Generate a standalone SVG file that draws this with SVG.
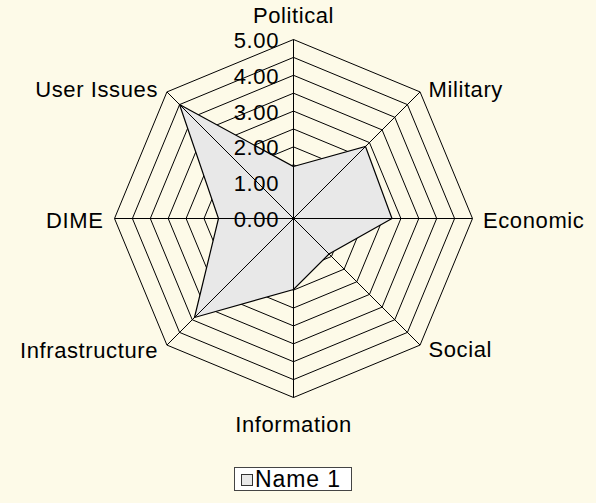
<svg xmlns="http://www.w3.org/2000/svg" width="596" height="503" viewBox="0 0 596 503">
<style>
text{font-family:"Liberation Sans",Arial,sans-serif;font-size:22px;fill:#000;letter-spacing:0.6px}
.ring{fill:none;stroke:#000;stroke-width:1}
.spoke{stroke:#000;stroke-width:1}
.data{fill:#E8E8E8;stroke:#000;stroke-width:1.2}
</style>
<rect width="596" height="503" fill="#FDFAE8"/>
<g id="grid" transform="translate(293.5,218.5)">
<polygon class="ring" points="0,-17.9 12.66,-12.66 17.9,0 12.66,12.66 0,17.9 -12.66,12.66 -17.9,0 -12.66,-12.66"/>
<polygon class="ring" points="0,-35.8 25.31,-25.31 35.8,0 25.31,25.31 0,35.8 -25.31,25.31 -35.8,0 -25.31,-25.31"/>
<polygon class="ring" points="0,-53.7 37.97,-37.97 53.7,0 37.97,37.97 0,53.7 -37.97,37.97 -53.7,0 -37.97,-37.97"/>
<polygon class="ring" points="0,-71.6 50.63,-50.63 71.6,0 50.63,50.63 0,71.6 -50.63,50.63 -71.6,0 -50.63,-50.63"/>
<polygon class="ring" points="0,-89.5 63.29,-63.29 89.5,0 63.29,63.29 0,89.5 -63.29,63.29 -89.5,0 -63.29,-63.29"/>
<polygon class="ring" points="0,-107.4 75.94,-75.94 107.4,0 75.94,75.94 0,107.4 -75.94,75.94 -107.4,0 -75.94,-75.94"/>
<polygon class="ring" points="0,-125.3 88.6,-88.6 125.3,0 88.6,88.6 0,125.3 -88.6,88.6 -125.3,0 -88.6,-88.6"/>
<polygon class="ring" points="0,-143.2 101.26,-101.26 143.2,0 101.26,101.26 0,143.2 -101.26,101.26 -143.2,0 -101.26,-101.26"/>
<polygon class="ring" points="0,-161.1 113.91,-113.91 161.1,0 113.91,113.91 0,161.1 -113.91,113.91 -161.1,0 -113.91,-113.91"/>
<polygon class="ring" points="0,-179 126.57,-126.57 179,0 126.57,126.57 0,179 -126.57,126.57 -179,0 -126.57,-126.57"/>
</g>
<g id="series-name-1" transform="translate(293.5,218.5)">
<polygon class="data" points="0,-52 72,-72 98.5,0 35.5,35.5 0,71 -99,99 -75,0 -114,-114"/>
</g>
<g id="connectors" transform="translate(293.5,218.5)">
<line class="spoke" x1="0" y1="0" x2="0" y2="-179"/>
<line class="spoke" x1="0" y1="0" x2="126.57" y2="-126.57"/>
<line class="spoke" x1="0" y1="0" x2="179" y2="0"/>
<line class="spoke" x1="0" y1="0" x2="126.57" y2="126.57"/>
<line class="spoke" x1="0" y1="0" x2="0" y2="179"/>
<line class="spoke" x1="0" y1="0" x2="-126.57" y2="126.57"/>
<line class="spoke" x1="0" y1="0" x2="-179" y2="0"/>
<line class="spoke" x1="0" y1="0" x2="-126.57" y2="-126.57"/>
</g>
<g id="scale">
<text x="279" y="48.3" text-anchor="end">5.00</text>
<text x="279" y="83.8" text-anchor="end">4.00</text>
<text x="279" y="119.5" text-anchor="end">3.00</text>
<text x="279" y="155.3" text-anchor="end">2.00</text>
<text x="279" y="191.1" text-anchor="end">1.00</text>
<text x="279" y="226.8" text-anchor="end">0.00</text>
</g>
<g id="axis-political"><text x="293.5" y="22.5" text-anchor="middle">Political</text></g>
<g id="axis-military"><text x="428.5" y="97.3">Military</text></g>
<g id="axis-economic"><text x="483" y="228">Economic</text></g>
<g id="axis-social"><text x="428.5" y="357">Social</text></g>
<g id="axis-information"><text x="293.5" y="431.5" text-anchor="middle">Information</text></g>
<g id="axis-infrastructure"><text x="158" y="358" text-anchor="end">Infrastructure</text></g>
<g id="axis-dime"><text x="103.5" y="228.3" text-anchor="end">DIME</text></g>
<g id="axis-user-issues"><text x="158" y="97" text-anchor="end">User Issues</text></g>
<g id="legend">
<rect x="234.5" y="467.5" width="117" height="23" fill="#FFFFFF" stroke="#444" stroke-width="1"/>
<rect x="241.5" y="474.5" width="11" height="11" fill="#E8E8E8" stroke="#333" stroke-width="1"/>
<text x="255" y="487" style="font-size:23px;letter-spacing:0.9px">Name 1</text>
</g>
</svg>
